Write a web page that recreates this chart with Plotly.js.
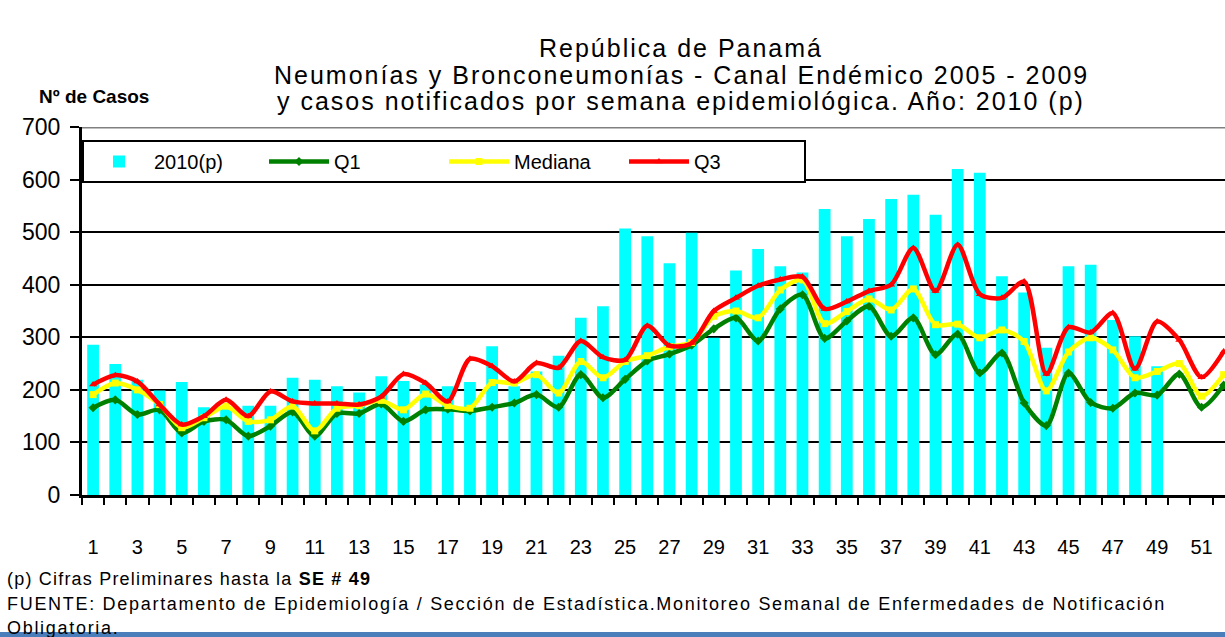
<!DOCTYPE html>
<html>
<head>
<meta charset="utf-8">
<script src="https://cdn.plot.ly/plotly-3.0.1.min.js"></script>
<style>
html,body{margin:0;padding:0;background:#fff;}
#chart{width:1225px;height:637px;}
.annotation[data-index="0"] text,
.annotation[data-index="1"] text,
.annotation[data-index="2"] text{letter-spacing:2px;}
.annotation[data-index="4"] text{letter-spacing:1.2px;}
.annotation[data-index="5"] text,
.annotation[data-index="6"] text{letter-spacing:1.7px;}
</style>
</head>
<body>
<div id="chart"></div>
<script>
// ---- data ----
var weeks = [];
for (var i = 1; i <= 52; i++) weeks.push(i);
var weeks2010 = weeks.slice(0, 49);

var cases2010 = [286,249,219,199,215,167,166,170,170,223,219,207,195,226,217,210,207,215,283,207,235,265,337,359,507,492,441,499,299,427,468,435,423,544,492,525,563,571,533,620,613,416,385,280,435,438,333,302,245];

var q1 = [166,181,153,162,118,140,143,112,131,158,112,155,155,173,140,162,163,160,167,175,191,167,229,185,220,255,268,285,316,337,293,354,381,298,331,359,302,337,267,306,232,270,175,132,232,176,165,194,190,230,167,209];

var mediana = [191,213,200,172,128,147,169,140,143,169,122,165,170,180,162,192,170,165,214,213,229,194,254,223,254,265,282,290,340,350,337,390,409,326,349,373,352,392,324,325,299,314,292,198,272,299,276,223,235,250,188,229];

var q3 = [210,228,216,172,134,150,181,150,197,178,174,174,172,187,230,213,178,259,245,216,251,242,293,262,257,322,284,289,350,375,398,410,415,354,368,388,400,470,388,476,382,375,406,230,319,309,346,240,330,295,224,273];

var seriesNames = ['2010(p)', 'Q1', 'Mediana', 'Q3'];
var tickLabelWeeks = [];
for (var k = 1; k <= 51; k += 2) tickLabelWeeks.push(k);
var boundaryTicks = [];
for (var b = 0; b <= 53; b++) boundaryTicks.push(b + 0.5);

var titleLines = ['República de Panamá',
  'Neumonías y Bronconeumonías - Canal Endémico 2005 - 2009',
  'y casos notificados por semana epidemiológica. Año: 2010 (p)'];
var yLabel = 'Nº de Casos';
var note1 = '(p) Cifras Preliminares hasta la <b>SE # 49</b>';
var note2 = 'FUENTE: Departamento de Epidemiología / Sección de Estadística.Monitoreo Semanal de Enfermedades de Notificación';
var note3 = 'Obligatoria.';

// ---- chart ----
var baseFont = 'Liberation Sans, Arial, sans-serif';
var narrowFont = 'Liberation Sans Narrow, Arial Narrow, sans-serif';
var xRange = [0.5, 52.06];

function lineTrace(name, y, color, symbol) {
  return {
    type: 'scatter', mode: 'lines+markers', name: name,
    x: weeks, y: y,
    line: {color: color, width: 4.5, shape: 'spline', smoothing: 0.8},
    marker: {color: color, size: 7, symbol: symbol},
    cliponaxis: true
  };
}

var traces = [
  {type: 'bar', name: seriesNames[0], x: weeks2010, y: cases2010,
   marker: {color: '#00FFFF', line: {width: 0}}},
  lineTrace(seriesNames[1], q1, '#008000', 'diamond'),
  lineTrace(seriesNames[2], mediana, '#FFFF00', 'square'),
  lineTrace(seriesNames[3], q3, '#FF0000', 'triangle-up')
];

var plotL = 82, plotT = 127, plotB = 495, H = 637, W = 1225;
var plotH = plotB - plotT, plotW = W - plotL;
function py(px) { return (plotB - px) / plotH; }
function px2(px) { return (px - plotL) / plotW; }

function titleAnn(text, ypx) {
  return {text: text, xref: 'paper', yref: 'paper', x: px2(681), xanchor: 'center',
    y: py(ypx), yanchor: 'middle', showarrow: false,
    font: {family: baseFont, size: 25, color: '#000'}};
}
function noteAnn(text, ypx) {
  return {text: text, xref: 'paper', yref: 'paper', x: px2(5), xanchor: 'left', align: 'left',
    y: py(ypx), yanchor: 'middle', showarrow: false,
    font: {family: narrowFont, size: 18, color: '#000'}};
}

var layout = {
  width: W, height: H,
  margin: {l: plotL, r: 0, t: plotT, b: H - plotB, pad: 0},
  paper_bgcolor: '#fff', plot_bgcolor: '#fff',
  font: {family: baseFont, color: '#000'},
  bargap: 0.47,
  showlegend: true,
  xaxis: {
    range: xRange, tickmode: 'array', tickvals: tickLabelWeeks,
    ticktext: tickLabelWeeks.map(String),
    ticks: '', showgrid: false, zeroline: false,
    showline: true, linecolor: '#000', linewidth: 3,
    tickfont: {family: narrowFont, size: 20, color: '#000'},
    ticklabelstandoff: 32, fixedrange: true
  },
  xaxis2: {
    overlaying: 'x', anchor: 'y', side: 'bottom', matches: 'x',
    range: xRange, tickmode: 'array', tickvals: boundaryTicks,
    showticklabels: false, ticks: 'outside', ticklen: 9, tickwidth: 2, tickcolor: '#000',
    showgrid: false, zeroline: false, showline: false
  },
  yaxis: {
    range: [0, 700], tickmode: 'linear', tick0: 0, dtick: 100,
    ticks: 'outside', ticklen: 9, tickwidth: 2, tickcolor: '#000',
    showgrid: true, gridcolor: '#000', gridwidth: 2,
    zeroline: false, showline: true, linecolor: '#000', linewidth: 3,
    tickfont: {family: baseFont, size: 23, color: '#000'},
    ticklabelstandoff: 5
  },
  legend: {
    orientation: 'h', x: 0, xanchor: 'left', y: py(140), yanchor: 'top',
    bgcolor: '#fff', bordercolor: '#000', borderwidth: 2,
    font: {family: baseFont, size: 20, color: '#000'},
    entrywidth: 105, itemwidth: 60, traceorder: 'normal'
  },
  shapes: [
    {type: 'line', xref: 'paper', yref: 'y', x0: 0, x1: 1, y0: 700, y1: 700,
     line: {color: '#808080', width: 3}},
    {type: 'rect', xref: 'paper', yref: 'paper', x0: px2(0), x1: 1,
     y0: py(637), y1: py(632), fillcolor: '#4A7EBB', line: {width: 0}}
  ],
  annotations: [
    titleAnn(titleLines[0], 48),
    titleAnn(titleLines[1], 75),
    titleAnn(titleLines[2], 101),
    {text: yLabel, xref: 'paper', yref: 'paper', x: px2(37), xanchor: 'left',
     y: py(97), yanchor: 'middle', showarrow: false,
     font: {family: baseFont, size: 19, color: '#000', weight: 'bold'}},
    noteAnn(note1, 579),
    noteAnn(note2, 604),
    noteAnn(note3, 628)
  ]
};

// helper trace so that the boundary-tick axis is drawn
traces.push({type: 'scatter', mode: 'none', x: weeks, y: q1, xaxis: 'x2', yaxis: 'y',
  showlegend: false, hoverinfo: 'skip'});

Plotly.newPlot('chart', traces, layout, {staticPlot: true});
</script>
</body>
</html>
